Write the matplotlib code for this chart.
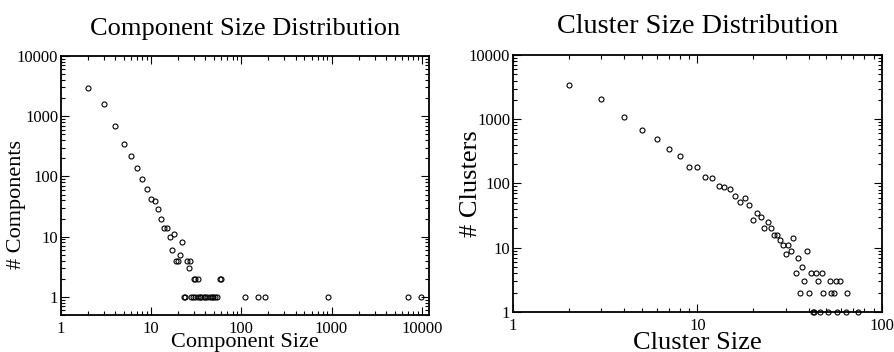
import numpy as np
import matplotlib
matplotlib.use("Agg")
import matplotlib.pyplot as plt
from matplotlib.ticker import LogLocator, FuncFormatter, NullFormatter

plt.rcParams['font.family'] = ['Liberation Serif', 'DejaVu Serif']

# component size distribution
comp_size = [2, 3, 4, 5, 6, 7, 8, 9, 10, 11, 12, 13, 14, 15, 16, 17, 18, 19, 20,
             21, 22, 25, 26, 27, 30, 31, 33, 58, 60,
             23, 24, 28, 29, 31, 33, 35, 36, 39, 40, 42, 45, 47, 49, 51, 54,
             111, 153, 183, 910, 7050, 9900]
comp_count = [2900, 1600, 690, 340, 215, 138, 92, 62, 42, 39, 29, 20, 14, 14, 10, 6, 11, 4, 4,
              5, 8, 4, 3, 4, 2, 2, 2, 2, 2,
              1, 1, 1, 1, 1, 1, 1, 1, 1, 1, 1, 1, 1, 1, 1, 1,
              1, 1, 1, 1, 1, 1]

# cluster size distribution
clus_size = [2, 3, 4, 5, 6, 7, 8, 9, 10, 11, 12, 13, 14, 15, 16, 17, 18, 19, 20,
             21, 22, 23, 24, 25, 26, 27, 28, 29, 30, 31, 32, 33, 34, 35, 36, 37,
             38, 39, 40, 41, 42, 43, 44, 45, 46, 47, 48, 51, 52, 53, 55, 56, 57,
             59, 64, 65, 74]
clus_count = [3400, 2050, 1090, 670, 490, 350, 265, 180, 178, 127, 121, 93, 89, 83, 63, 51, 59, 46, 27,
              35, 30, 20, 25, 20, 16, 16, 13, 11, 8, 11, 9, 14, 4, 7, 2, 5,
              3, 9, 2, 4, 1, 1, 4, 3, 1, 4, 2, 1, 3, 2, 2, 3, 1,
              3, 1, 2, 1]


def style_axes(ax):
    ax.set_xscale('log')
    ax.set_yscale('log')
    for a in (ax.xaxis, ax.yaxis):
        a.set_major_locator(LogLocator(base=10, numticks=20))
        a.set_minor_locator(LogLocator(base=10, subs=np.arange(2, 10), numticks=20))
        a.set_major_formatter(FuncFormatter(lambda v, p: '%d' % round(v)))
        a.set_minor_formatter(NullFormatter())
    ax.tick_params(which='both', direction='in', top=True, right=True, width=0.8, labelsize=12)
    ax.tick_params(which='major', length=6)
    ax.tick_params(which='minor', length=3)
    ax.tick_params(axis='x', pad=4)
    ax.tick_params(axis='y', pad=2)
    for s in ax.spines.values():
        s.set_linewidth(1.3)


fig = plt.figure(figsize=(8.94, 3.52), dpi=100)

ax1 = fig.add_axes([0.0682, 0.1051, 0.4117, 0.7358])
ax1.plot(comp_size, comp_count, 'o', mfc='none', mec='black', ms=3.6, mew=0.8)
style_axes(ax1)
ax1.set_xlim(1, 12050)
ax1.set_ylim(0.5, 10000)
ax1.set_xlabel('Component Size', fontsize=16, va='baseline')
ax1.xaxis.set_label_coords(0.5, -0.124)
ax1.set_ylabel('# Components', fontsize=16, va='center')
ax1.yaxis.set_label_coords(-0.12, 0.425)
ax1.set_title('Component Size Distribution', fontsize=19, pad=15)

ax2 = fig.add_axes([0.5738, 0.1136, 0.4128, 0.7302])
ax2.plot(clus_size, clus_count, 'o', mfc='none', mec='black', ms=3.6, mew=0.8, clip_on=False)
style_axes(ax2)
ax2.set_xlim(1, 100)
ax2.set_ylim(1, 10000)
ax2.set_xlabel('Cluster Size', fontsize=19, va='baseline')
ax2.xaxis.set_label_coords(0.5, -0.145)
ax2.set_ylabel('# Clusters', fontsize=19, va='center')
ax2.yaxis.set_label_coords(-0.114, 0.5)
ax2.set_title('Cluster Size Distribution', fontsize=20.3, pad=16)

fig.savefig('out.png', dpi=100)
